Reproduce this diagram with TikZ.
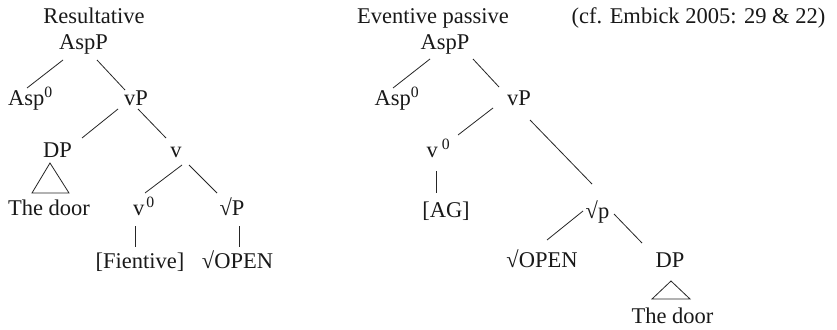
\documentclass[tikz,border=0pt]{standalone}
\usepackage{fontspec}
\setmainfont{Liberation Serif}
\begin{document}
\begin{tikzpicture}[x=1pt,y=-1pt,
  lab/.style={anchor=base, inner sep=0pt, text=black!90, font=\fontsize{22.5}{27}\selectfont},
  branch/.style={draw=black!85, line width=0.8pt}]
\fill[white] (0,0) rectangle (837,329);
\useasboundingbox (0,0) rectangle (837,329);

% ---------- Resultative ----------
\node[lab] (titleL) at (94,24) {Resultative};
\node[lab] (aspL)   at (83.5,50) {AspP};
\node[lab] (asp0L)  at (30.5,105) {Asp\textsuperscript{0}};
\node[lab] (vPL)    at (136,105) {vP};
\node[lab] (dpL)    at (57.5,157) {DP};
\node[lab] (vL)     at (176,157) {v};
\node[lab] (doorL)  at (49,215) {The door};
\node[lab] (v0L)    at (144,215) {v\kern2pt\textsuperscript{0}};
\node[lab] (rPL)    at (232,215) {√P};
\node[lab] (fient)  at (140,268) {[Fientive]};
\node[lab] (openL)  at (237.5,268) {√OPEN};

\draw[branch] ([shift={(-20.5,10)}]aspL.base) -- ([shift={(-3.5,-17)}]asp0L.base);
\draw[branch] ([shift={(13.5,10)}]aspL.base)  -- ([shift={(-11,-15)}]vPL.base);
\draw[branch] ([shift={(-18,4)}]vPL.base)     -- ([shift={(24.5,-19)}]dpL.base);
\draw[branch] ([shift={(2,4)}]vPL.base)       -- ([shift={(-10,-19)}]vL.base);
\draw[branch] ([shift={(6,8)}]vL.base)        -- ([shift={(1,-22)}]v0L.base);
\draw[branch] ([shift={(13,8)}]vL.base)       -- ([shift={(-15,-22)}]rPL.base);
\draw[branch] ([shift={(-9,11)}]v0L.base)     -- ([shift={(-5,-21)}]fient.base);
\draw[branch] ([shift={(7,11)}]rPL.base)      -- ([shift={(1.5,-21)}]openL.base);
\draw[branch] ([shift={(-7.5,6)}]dpL.base) -- ([shift={(-17,-22)}]doorL.base)
  -- ([shift={(20,-22)}]doorL.base) -- cycle;

% ---------- Eventive passive ----------
\node[lab] (titleR) at (433,24) {Eventive passive};
\node[lab] (cite)   at (698.5,24) {(cf. Embick 2005: 29 \& 22)};
\node[lab] (aspR)   at (445,50) {AspP};
\node[lab] (asp0R)  at (397,105) {Asp\textsuperscript{0}};
\node[lab] (vPR)    at (519,105) {vP};
\node[lab] (v0R)    at (438.5,157) {v\kern4pt\textsuperscript{0}};
\node[lab] (ag)     at (446,217) {[AG]};
\node[lab] (rpR)    at (597.5,218) {√p};
\node[lab] (openR)  at (542,267) {√OPEN};
\node[lab] (dpR)    at (670,267) {DP};
\node[lab] (doorR)  at (672.5,323) {The door};

\draw[branch] ([shift={(-15,9)}]aspR.base)   -- ([shift={(-4,-17)}]asp0R.base);
\draw[branch] ([shift={(28,9)}]aspR.base)    -- ([shift={(-20,-18)}]vPR.base);
\draw[branch] ([shift={(-26,3)}]vPR.base)    -- ([shift={(19.5,-22)}]v0R.base);
\draw[branch] ([shift={(11,15)}]vPR.base)    -- ([shift={(-5.5,-34)}]rpR.base);
\draw[branch] ([shift={(-2.5,14)}]v0R.base)  -- ([shift={(-10,-24)}]ag.base);
\draw[branch] ([shift={(-14.5,-7)}]rpR.base) -- ([shift={(5,-27)}]openR.base);
\draw[branch] ([shift={(16.5,-4)}]rpR.base)  -- ([shift={(-28,-24)}]dpR.base);
\draw[branch] ([shift={(1,14)}]dpR.base) -- ([shift={(-20.5,-24)}]doorR.base)
  -- ([shift={(17.5,-24)}]doorR.base) -- cycle;
\end{tikzpicture}
\end{document}
